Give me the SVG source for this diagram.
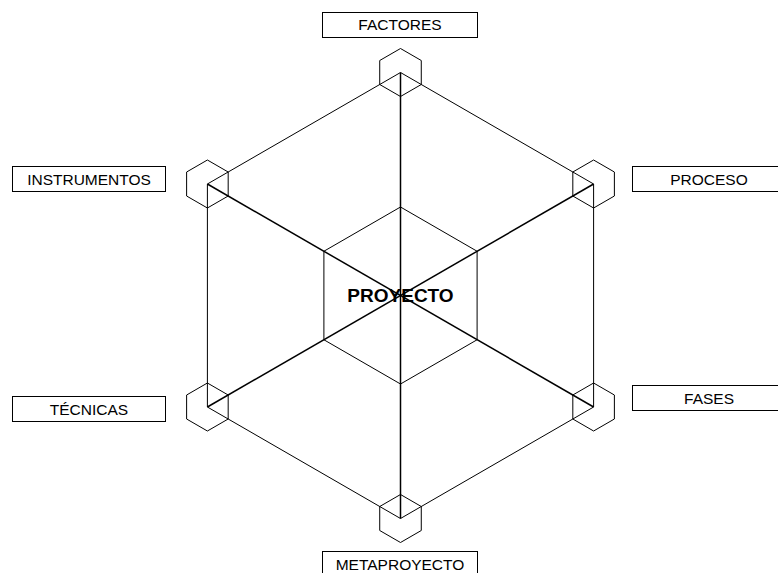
<svg xmlns="http://www.w3.org/2000/svg" xmlns:xlink="http://www.w3.org/1999/xlink" width="778" height="573" viewBox="0 0 778 573">
<style>
.edge{fill:none;stroke:#000;stroke-width:1}
.spoke{fill:none;stroke:#000;stroke-width:1.5}
.hex{fill:none;stroke:#000;stroke-width:1}
.box{fill:#fff;stroke:#000;stroke-width:1}
.lbl{font-family:"Liberation Sans",Arial,sans-serif;font-size:15.5px;text-anchor:middle;fill:#000}
.title{font-family:"Liberation Sans",Arial,sans-serif;font-size:19px;font-weight:bold;text-anchor:middle;fill:#000}
</style>
<defs>
<polygon id="sh" class="hex" points="0,-24 20.78,-12 20.78,12 0,24 -20.78,12 -20.78,-12"/>
</defs>
<rect width="778" height="573" fill="#fff"/>
<g id="connectors">
<polygon class="edge" points="400.5,72.5 593.6,184 593.6,407 400.5,518.5 207.4,407 207.4,184"/>
<polygon class="edge" points="400.5,207 477.1,251.25 477.1,339.75 400.5,384 323.9,339.75 323.9,251.25"/>
<line class="spoke" x1="400.5" y1="72.5" x2="400.5" y2="518.5"/>
<line class="spoke" x1="207.4" y1="184" x2="593.6" y2="407"/>
<line class="spoke" x1="593.6" y1="184" x2="207.4" y2="407"/>
</g>
<g id="node-proyecto"><text class="title" x="400.5" y="302">PROYECTO</text></g>
<g id="node-factores">
<use xlink:href="#sh" x="400.5" y="72.5"/>
<rect class="box" x="322.5" y="12.5" width="155" height="25"/>
<text class="lbl" x="400" y="30">FACTORES</text>
</g>
<g id="node-proceso">
<use xlink:href="#sh" x="593.6" y="184"/>
<rect class="box" x="632.5" y="166.5" width="153" height="25"/>
<text class="lbl" x="709" y="185">PROCESO</text>
</g>
<g id="node-fases">
<use xlink:href="#sh" x="593.6" y="407"/>
<rect class="box" x="632.5" y="385.5" width="153" height="25"/>
<text class="lbl" x="709" y="404">FASES</text>
</g>
<g id="node-metaproyecto">
<use xlink:href="#sh" x="400.5" y="518.5"/>
<rect class="box" x="322.5" y="551.5" width="155" height="25"/>
<text class="lbl" x="400" y="570">METAPROYECTO</text>
</g>
<g id="node-tecnicas">
<use xlink:href="#sh" x="207.4" y="407"/>
<rect class="box" x="12.5" y="396.5" width="153" height="25"/>
<text class="lbl" x="89" y="415">TÉCNICAS</text>
</g>
<g id="node-instrumentos">
<use xlink:href="#sh" x="207.4" y="184"/>
<rect class="box" x="12.5" y="166.5" width="153" height="25"/>
<text class="lbl" x="89" y="185">INSTRUMENTOS</text>
</g>
</svg>
